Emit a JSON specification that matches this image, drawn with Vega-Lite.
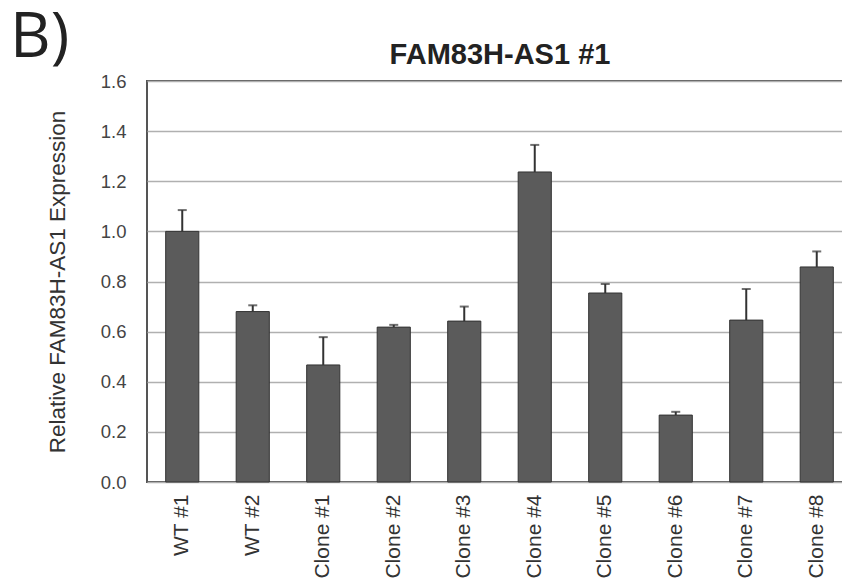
{
  "$schema": "https://vega.github.io/schema/vega-lite/v6.json",
  "autosize": "none",
  "padding": {"left": 147, "top": 81, "right": 0, "bottom": 104},
  "width": 705,
  "height": 401,
  "data": {"values": [
    {"group": "WT #1", "mean": 1.0, "upper": 1.085},
    {"group": "WT #2", "mean": 0.68, "upper": 0.705},
    {"group": "Clone #1", "mean": 0.467, "upper": 0.578},
    {"group": "Clone #2", "mean": 0.618, "upper": 0.627},
    {"group": "Clone #3", "mean": 0.642, "upper": 0.70},
    {"group": "Clone #4", "mean": 1.237, "upper": 1.345},
    {"group": "Clone #5", "mean": 0.754, "upper": 0.79},
    {"group": "Clone #6", "mean": 0.267, "upper": 0.28},
    {"group": "Clone #7", "mean": 0.646, "upper": 0.77},
    {"group": "Clone #8", "mean": 0.858, "upper": 0.92}
  ]},
  "config": {
    "view": {"stroke": "#555", "strokeWidth": 2},
    "font": "Liberation Sans"
  },
  "title": {"text": "B)", "font": "Open Sans", "fontSize": 63, "fontWeight": "normal", "color": "#222", "anchor": "start", "frame": "group", "offset": 0, "dx": -137, "dy": 30},
  "layer": [
    {
      "mark": {"type": "bar", "fill": "#5b5b5b", "stroke": "#333", "strokeWidth": 1},
      "encoding": {
        "x": {"field": "group", "type": "nominal", "sort": null,
          "scale": {"paddingInner": 0.53, "paddingOuter": 0.265},
          "axis": {"title": null, "labelAngle": -90, "labelFontSize": 21, "labelColor": "#333", "labelPadding": 12, "ticks": false, "domain": false, "grid": false, "labelFont": "Liberation Sans"}},
        "y": {"field": "mean", "type": "quantitative", "scale": {"domain": [0, 1.6]},
          "axis": {"title": "Relative FAM83H-AS1 Expression", "titleFontSize": 22.5, "titleFontWeight": "normal", "titleColor": "#333", "titlePadding": 31, "titleFont": "Liberation Sans",
            "labelFontSize": 18.5, "labelColor": "#444", "labelPadding": 21, "labelFont": "Liberation Sans",
            "ticks": false, "domain": false, "grid": true, "gridColor": "#b0b0b0", "gridWidth": 1.5,
            "values": [0, 0.2, 0.4, 0.6, 0.8, 1.0, 1.2, 1.4, 1.6], "format": ".1f"}}
      }
    },
    {
      "mark": {"type": "rule", "color": "#333", "strokeWidth": 2},
      "encoding": {
        "x": {"field": "group", "type": "nominal", "sort": null, "axis": null},
        "y": {"field": "mean", "type": "quantitative"},
        "y2": {"field": "upper"}
      }
    },
    {
      "mark": {"type": "tick", "color": "#333", "thickness": 2, "size": 9},
      "encoding": {
        "x": {"field": "group", "type": "nominal", "sort": null, "axis": null},
        "y": {"field": "upper", "type": "quantitative"}
      }
    },
    {
      "mark": {"type": "point", "opacity": 0},
      "encoding": {
        "x": {"field": "group", "type": "nominal", "sort": null,
          "axis": {"orient": "top", "title": "FAM83H-AS1 #1", "labels": false, "ticks": false, "domain": false, "grid": false,
            "titleFont": "Liberation Sans", "titleFontSize": 29, "titleFontWeight": "bold", "titleColor": "#222", "titleBaseline": "alphabetic", "titleY": -18}},
        "y": {"field": "mean", "type": "quantitative"}
      }
    }
  ],
  "resolve": {"axis": {"x": "independent"}}
}
